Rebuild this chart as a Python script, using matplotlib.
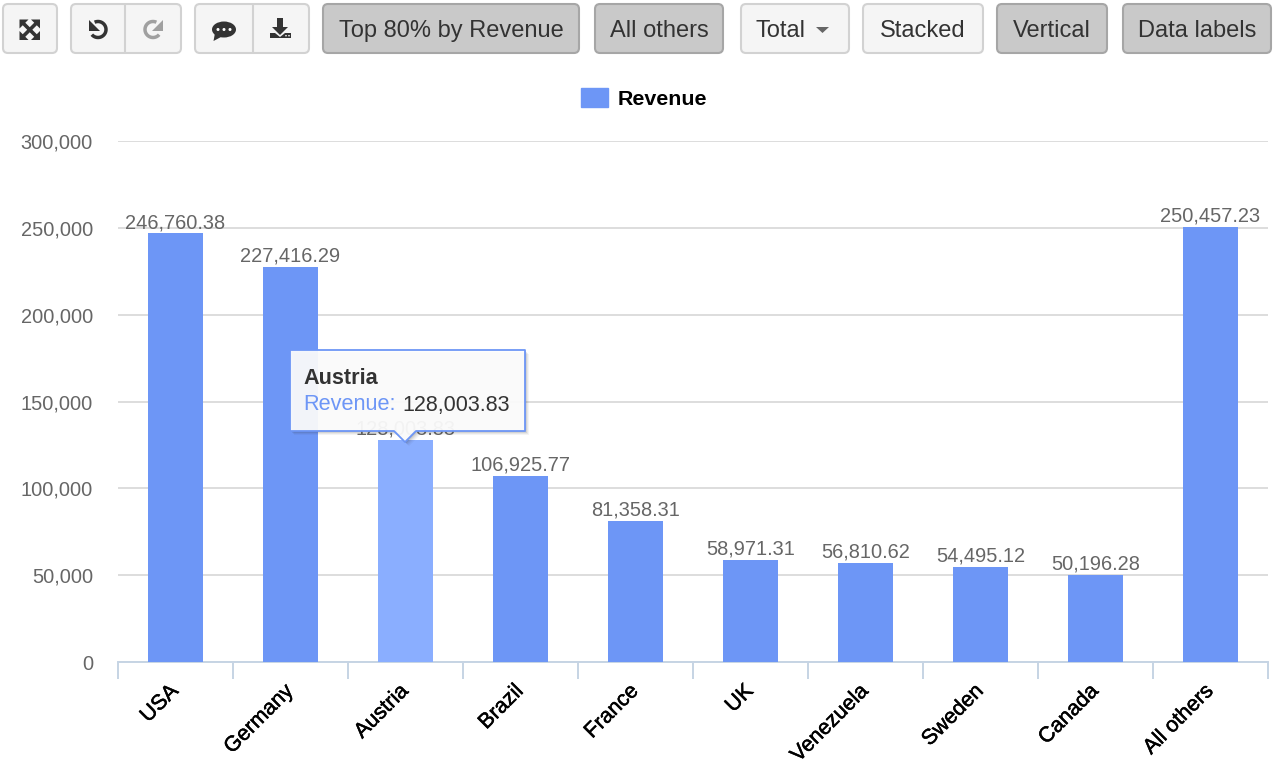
import numpy as np
import matplotlib
matplotlib.use('Agg')
import matplotlib.pyplot as plt
import matplotlib.patheffects as pe
from matplotlib.patches import FancyBboxPatch, Polygon, Rectangle, Ellipse, Circle

plt.rcParams['font.family'] = ['Liberation Sans', 'DejaVu Sans']

categories = ['USA', 'Germany', 'Austria', 'Brazil', 'France', 'UK', 'Venezuela', 'Sweden', 'Canada', 'All others']
revenue = [246760.38, 227416.29, 128003.83, 106925.77, 81358.31, 58971.31, 56810.62, 54495.12, 50196.28, 250457.23]
y_ticks = [0, 50000, 100000, 150000, 200000, 250000, 300000]
series_name = 'Revenue'
hovered = 2

BLUE = '#6d96f6'
HILITE = '#8aaeff'
W, H = 1280, 768

fig = plt.figure(figsize=(12.8, 7.68), dpi=100)
ax = fig.add_axes([118 / W, (H - 662) / H, 1150 / W, 521 / H])

colors = [HILITE if i == hovered else BLUE for i in range(len(categories))]
x = np.arange(len(categories))
bars = ax.bar(x, revenue, width=0.47, color=colors, label=series_name, zorder=3)
for xi, v in zip(x, revenue):
    ax.annotate(f'{v:,.2f}', (xi, v), xytext=(0, 1), textcoords='offset points',
                ha='center', va='bottom', fontsize=14.4, color='#666666', zorder=4)

ax.set_xlim(-0.5, len(categories) - 0.5)
ax.set_ylim(0, 300000)
ax.set_yticks(y_ticks)
ax.set_yticklabels([f'{t:,}' for t in y_ticks], fontsize=14.4, color='#666666')
ax.tick_params(axis='y', length=0, pad=18)
ax.grid(axis='y', color='#dddddd', lw=1.4, zorder=0)
ax.set_axisbelow(True)
for s in ['top', 'left', 'right']:
    ax.spines[s].set_visible(False)
ax.spines['bottom'].set_color('#c6d4e4')
ax.spines['bottom'].set_linewidth(1.4)

# ticks sit between categories, labels stay on the category centre
ax.set_xticks(np.arange(len(categories) + 1) - 0.5)
ax.set_xticklabels([])
ax.tick_params(axis='x', length=12, width=1.4, color='#c6d4e4', direction='out')
for xi, name in zip(x, categories):
    ax.annotate(name, (xi, 0), xycoords=ax.get_xaxis_transform(), xytext=(-5, -14),
                textcoords='offset points', rotation=45, rotation_mode='anchor',
                ha='right', va='top', fontsize=15.4, color='black',
                path_effects=[pe.withStroke(linewidth=0.35, foreground='black')])

leg = fig.legend(handles=[bars[0]], labels=[series_name], loc='center', bbox_to_anchor=(644 / W, 1 - 98.5 / H),
                 frameon=False, prop={'size': 15.4, 'weight': 'bold'}, handlelength=1.3, handleheight=1.0,
                 handletextpad=0.45, borderpad=0)
leg.legend_handles[0].set_color(BLUE)

# overlay in pixel coordinates for the toolbar and tooltip
ov = fig.add_axes([0, 0, 1, 1], facecolor='none')
ov.set_xlim(0, W)
ov.set_ylim(H, 0)
ov.axis('off')


def button(x0, x1, label=None, active=False, y0=4, y1=53):
    fc = '#c9c9c9' if active else '#f5f5f5'
    ec = '#a6a6a6' if active else '#d2d2d2'
    ov.add_patch(FancyBboxPatch((x0 + 3, y0 + 3), x1 - x0 - 6, y1 - y0 - 6, boxstyle='round,pad=3,rounding_size=5',
                                fc=fc, ec=ec, lw=1.5))
    if label:
        ov.text((x0 + x1) / 2, (y0 + y1) / 2 + 2.5, label, ha='center', va='center', fontsize=17, color='#333333')


def arc(cx, cy, r, a0, a1, color):
    a = np.radians(np.linspace(a0, a1, 60))
    ov.plot(cx + r * np.cos(a), cy + r * np.sin(a), color=color, lw=2.5, solid_capstyle='butt')


button(3, 57)
button(71, 181)
ov.plot([125, 125], [5, 52], color='#d2d2d2', lw=1.5)
button(195, 309)
ov.plot([253, 253], [5, 52], color='#d2d2d2', lw=1.5)
button(323, 579, 'Top 80% by Revenue', active=True)
button(595, 723, 'All others', active=True)
button(741, 849)
ov.text(781, 31, 'Total', ha='center', va='center', fontsize=17, color='#333333')
ov.add_patch(Polygon([[816, 27], [829, 27], [822.5, 33]], fc='#666666', ec='none'))
button(863, 983, 'Stacked')
button(997, 1107, 'Vertical', active=True)
button(1123, 1271, 'Data labels', active=True)

# expand icon
ICON = '#333333'
ov.plot([23, 36.5], [23, 36.5], color=ICON, lw=2.6)
ov.plot([36.5, 23], [23, 36.5], color=ICON, lw=2.6)
for cx, cy, sx, sy in [(19.5, 19.5, 1, 1), (40, 19.5, -1, 1), (19.5, 40, 1, -1), (40, 40, -1, -1)]:
    ov.add_patch(Polygon([[cx, cy], [cx + sx * 9, cy], [cx, cy + sy * 9]], fc=ICON, ec='none'))

# undo and redo
arc(98, 29.5, 8, -115, 140, ICON)
ov.add_patch(Polygon([[88.5, 20], [88.5, 31], [99.5, 31]], fc=ICON, ec='none'))
arc(153, 29.5, 8, -65, -320, '#a0a0a0')
ov.add_patch(Polygon([[162.5, 20], [162.5, 31], [151.5, 31]], fc='#a0a0a0', ec='none'))

# comment
ov.add_patch(Ellipse((224, 29.5), 24, 16, fc=ICON, ec='none'))
ov.add_patch(Polygon([[215, 33], [221, 37], [213.5, 41]], fc=ICON, ec='none'))
for cx in [218, 224, 230]:
    ov.add_patch(Circle((cx, 29.5), 1.5, fc='white', ec='none'))

# download
ov.add_patch(Rectangle((277, 18), 6, 10, fc=ICON, ec='none'))
ov.add_patch(Polygon([[272, 27], [288, 27], [280, 35]], fc=ICON, ec='none'))
ov.add_patch(Polygon([[270, 33], [275, 33], [280, 37], [285, 33], [291, 33], [291, 38], [270, 38]], fc=ICON, ec='none'))
for cx in [286, 289]:
    ov.add_patch(Circle((cx, 35.7), 0.8, fc='white', ec='none'))

# tooltip
tip = np.array([[290, 350], [525, 350], [525, 431], [416, 431], [405, 442], [394, 431], [290, 431]])
for off, a in [(4, 0.05), (3, 0.07), (2, 0.1), (1, 0.12)]:
    ov.add_patch(Polygon(tip + off, fc='#333333', ec='none', alpha=a))
ov.add_patch(Polygon(tip, closed=True, fc='white', ec='none', alpha=0.93))
ov.add_patch(Polygon(tip, closed=True, fc='none', ec=BLUE, lw=1.3, joinstyle='round'))
ov.text(303, 378, categories[hovered], ha='left', va='center', fontsize=15.6, fontweight='bold', color='#333333')
ov.text(303, 405, f'{series_name}:', ha='left', va='center', fontsize=15.7, color=BLUE)
ov.text(402, 405, f'{revenue[hovered]:,.2f}', ha='left', va='center', fontsize=15.5, color='#333333')

fig.savefig('out.png', dpi=100, facecolor='white')
